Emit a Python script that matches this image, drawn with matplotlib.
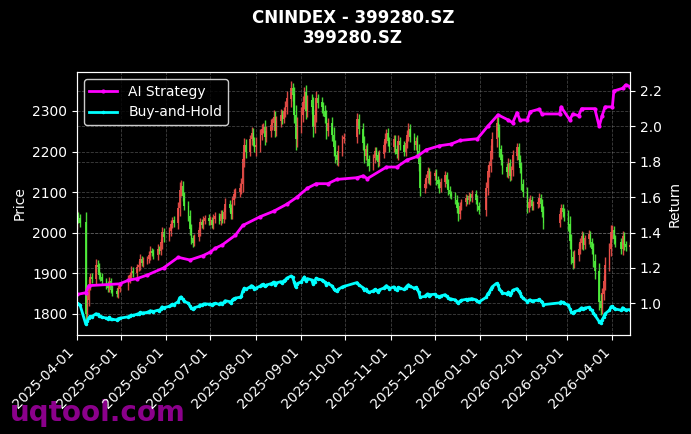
import numpy as np
import pandas as pd
import matplotlib
matplotlib.use("Agg")
import matplotlib.pyplot as plt
import matplotlib.dates as mdates
from matplotlib.ticker import MultipleLocator

# trading calendar (SZSE holidays removed)
holidays = ['2025-04-04', '2025-05-01', '2025-05-02', '2025-05-05', '2025-06-02',
            '2025-10-01', '2025-10-02', '2025-10-03', '2025-10-06', '2025-10-07', '2025-10-08',
            '2026-01-01', '2026-01-02', '2026-02-16', '2026-02-17', '2026-02-18',
            '2026-02-19', '2026-02-20', '2026-02-23', '2026-04-06']
dates = pd.bdate_range('2025-04-01', '2026-04-13')
dates = dates[~dates.isin(pd.to_datetime(holidays))]

# daily closes, month by month
close_apr25 = [2040, 2035, 2025, 1800, 1835, 1870, 1890, 1885, 1920, 1915, 1895, 1890, 1880,
               1870, 1865, 1880, 1860, 1855, 1850, 1862, 1868]
close_may25 = [1885, 1895, 1905, 1900, 1915, 1920, 1935, 1925, 1930, 1935, 1945, 1955, 1950,
               1945, 1960, 1955, 1975, 2000, 1990]
close_jun25 = [2005, 2020, 2030, 2025, 2060, 2105, 2115, 2090, 2065, 2040, 2010, 1985, 1975,
               1990, 2005, 2025, 2020, 2030, 2035, 2030]
close_jul25 = [2030, 2020, 2035, 2040, 2030, 2045, 2035, 2050, 2070, 2060, 2045, 2080, 2095,
               2100, 2110, 2120, 2180, 2215, 2200, 2230, 2245, 2225, 2210]
close_aug25 = [2215, 2240, 2255, 2260, 2235, 2250, 2265, 2270, 2285, 2250, 2275, 2290, 2280,
               2300, 2310, 2330, 2355, 2340, 2290, 2230, 2265]
close_sep25 = [2290, 2320, 2345, 2300, 2325, 2310, 2260, 2290, 2330, 2320, 2310, 2300, 2285,
               2250, 2270, 2240, 2210, 2190, 2180, 2200, 2230, 2235]
close_oct25 = [2280, 2255, 2220, 2190, 2205, 2180, 2165, 2185, 2200, 2190, 2175, 2195, 2215,
               2230, 2245, 2225, 2210]
close_nov25 = [2230, 2205, 2195, 2225, 2215, 2200, 2220, 2240, 2255, 2235, 2215, 2225, 2200,
               2170, 2110, 2120, 2135, 2150, 2130, 2140]
close_dec25 = [2145, 2130, 2120, 2110, 2125, 2140, 2120, 2105, 2095, 2090, 2080, 2060, 2045,
               2065, 2075, 2085, 2080, 2090, 2085, 2095, 2080, 2065, 2055]
close_jan26 = [2110, 2150, 2165, 2200, 2230, 2270, 2250, 2205, 2180, 2160, 2150, 2170, 2140,
               2155, 2190, 2210, 2180, 2160, 2120, 2100]
close_feb26 = [2060, 2075, 2080, 2065, 2070, 2075, 2085, 2070, 2050, 2025, 2045, 2060, 2050, 2040]
close_mar26 = [2020, 1980, 1940, 1925, 1945, 1960, 1975, 1990, 1970, 1985, 1995, 1975, 1960,
               1930, 1905, 1830, 1815, 1850, 1880, 1920, 1960, 2000]
close_apr26 = [2005, 1985, 1975, 1960, 1990, 1970, 1965, 1968]

wick_apr25 = [15, 12, 10, 25, 20, 15, 12, 10, 15, 12, 10, 8, 10, 8, 10, 12, 8, 10, 8, 10, 8]
wick_may25 = [10, 8, 12, 10, 8, 10, 12, 8, 10, 8, 10, 12, 8, 10, 12, 8, 10, 15, 12]
wick_jun25 = [10, 12, 8, 10, 15, 20, 15, 12, 10, 12, 15, 12, 10, 8, 10, 12, 8, 10, 8, 10]
wick_jul25 = [10, 8, 12, 10, 8, 10, 12, 10, 15, 10, 12, 10, 12, 10, 12, 15, 20, 18, 15, 12, 15, 12, 10]
wick_aug25 = [20, 15, 12, 10, 18, 12, 15, 12, 18, 15, 12, 15, 12, 10, 15, 18, 20, 15, 20, 25, 20]
wick_sep25 = [20, 18, 15, 20, 15, 18, 25, 15, 18, 12, 15, 12, 15, 18, 12, 15, 20, 18, 12, 15, 12, 10]
wick_oct25 = [15, 12, 15, 18, 12, 15, 12, 10, 12, 10, 12, 10, 12, 15, 10, 12, 10]
wick_nov25 = [12, 10, 12, 15, 10, 12, 10, 12, 15, 12, 10, 12, 15, 18, 20, 12, 10, 12, 10, 12]
wick_dec25 = [10, 12, 10, 12, 10, 12, 10, 12, 10, 8, 10, 12, 15, 10, 8, 10, 8, 10, 8, 10, 10, 12, 10]
wick_jan26 = [15, 18, 12, 15, 18, 20, 15, 18, 12, 15, 12, 15, 12, 10, 15, 12, 10, 12, 15, 12]
wick_feb26 = [12, 10, 12, 10, 8, 10, 12, 10, 12, 15, 12, 10, 12, 10]
wick_mar26 = [15, 20, 18, 15, 12, 15, 12, 15, 12, 10, 12, 10, 12, 15, 18, 20, 18, 15, 15, 20, 15, 18]
wick_apr26 = [15, 12, 10, 12, 15, 12, 10, 10]

first_open = 2025

# AI strategy equity curve read at selected dates
ai_dates = ['2025-04-01', '2025-04-07', '2025-04-09', '2025-04-30', '2025-05-06', '2025-05-12',
            '2025-05-19', '2025-05-30', '2025-06-09', '2025-06-17', '2025-06-26', '2025-07-01',
            '2025-07-04', '2025-07-09', '2025-07-18', '2025-07-23', '2025-08-04', '2025-08-13',
            '2025-08-22', '2025-08-29', '2025-09-05', '2025-09-11', '2025-09-19', '2025-09-25',
            '2025-10-09', '2025-10-13', '2025-10-16', '2025-10-29', '2025-11-05', '2025-11-12',
            '2025-11-19', '2025-11-25', '2025-12-04', '2025-12-12', '2025-12-18', '2025-12-30',
            '2026-01-06', '2026-01-13', '2026-01-20', '2026-01-23', '2026-01-26', '2026-01-28',
            '2026-02-02', '2026-02-04', '2026-02-10', '2026-02-12', '2026-02-24', '2026-02-25',
            '2026-03-03', '2026-03-05', '2026-03-09', '2026-03-11', '2026-03-20', '2026-03-23',
            '2026-03-25', '2026-03-27', '2026-04-01', '2026-04-02', '2026-04-08', '2026-04-10',
            '2026-04-13']
ai_values = [1.05, 1.06, 1.10, 1.11, 1.13, 1.14,
             1.16, 1.20, 1.26, 1.245, 1.27, 1.29,
             1.31, 1.33, 1.385, 1.44, 1.49, 1.52,
             1.56, 1.60, 1.65, 1.676, 1.676, 1.70,
             1.71, 1.72, 1.705, 1.77, 1.77, 1.81,
             1.83, 1.867, 1.89, 1.90, 1.92, 1.93,
             2.00, 2.065, 2.036, 2.02, 2.077, 2.036,
             2.036, 2.083, 2.097, 2.07, 2.07, 2.11,
             2.036, 2.07, 2.06, 2.10, 2.10, 2.00,
             2.06, 2.11, 2.11, 2.20, 2.215, 2.234,
             2.225]

closes = np.array(close_apr25 + close_may25 + close_jun25 + close_jul25 + close_aug25 + close_sep25
                  + close_oct25 + close_nov25 + close_dec25 + close_jan26 + close_feb26
                  + close_mar26 + close_apr26, dtype=float)
wicks = np.array(wick_apr25 + wick_may25 + wick_jun25 + wick_jul25 + wick_aug25 + wick_sep25
                 + wick_oct25 + wick_nov25 + wick_dec25 + wick_jan26 + wick_feb26
                 + wick_mar26 + wick_apr26, dtype=float)
opens = np.concatenate([[first_open], closes[:-1]])
highs = np.maximum(opens, closes) + wicks
lows = np.minimum(opens, closes) - wicks
bh = closes / closes[0]

fig = plt.figure(figsize=(6.91, 4.34), dpi=100, facecolor='black')
ax = fig.add_axes([0.1114, 0.2281, 0.8003, 0.6060])
ax.set_facecolor('black')

up = closes >= opens
col_up, col_dn = '#f0504a', '#50f03c'
colors = np.where(up, col_up, col_dn)
ax.vlines(dates, lows, highs, colors=colors, linewidth=1.0, alpha=0.9)
ax.bar(dates, np.abs(closes - opens) + 1.0, bottom=np.minimum(opens, closes),
       width=1.0, color=colors, alpha=0.9, linewidth=0)

ax.set_ylim(1748, 2396)
ax.set_xlim(dates[0], dates[-1])
ax.yaxis.set_major_locator(MultipleLocator(100))
ax.set_ylabel('Price', color='white', fontsize=10)
ax.xaxis.set_major_locator(mdates.MonthLocator())
ax.xaxis.set_major_formatter(mdates.DateFormatter('%Y-%m-%d'))
plt.setp(ax.get_xticklabels(), rotation=45, ha='right')
ax.grid(True, color='gray', linestyle='--', linewidth=0.6, alpha=0.5)

ax2 = ax.twinx()
ax2.plot(pd.to_datetime(ai_dates), ai_values, color='#ff00ff', lw=2,
         marker='o', markersize=2, label='AI Strategy')
ax2.plot(dates, bh, color='#00ffff', lw=2, marker='o', markersize=1.5, label='Buy-and-Hold')
ax2.set_ylim(0.821, 2.307)
ax2.yaxis.set_major_locator(MultipleLocator(0.2))
ax2.set_ylabel('Return', color='white', fontsize=10)
ax2.grid(True, color='gray', linestyle='--', linewidth=0.6, alpha=0.5)

for a in (ax, ax2):
    a.tick_params(colors='white', labelsize=10)
    for s in a.spines.values():
        s.set_color('white')

leg = ax2.legend(loc='upper left', facecolor='black', edgecolor='white',
                 labelcolor='white', fontsize=10)

fig.suptitle('CNINDEX - 399280.SZ\n399280.SZ', color='white', fontsize=12,
             fontweight='bold', x=0.511, y=0.98)
fig.text(0.015, 0.03, 'uqtool.com', color='#8b008b', fontsize=20,
         fontweight='bold', zorder=-1)

fig.savefig('out.png', dpi=100, facecolor='black')
